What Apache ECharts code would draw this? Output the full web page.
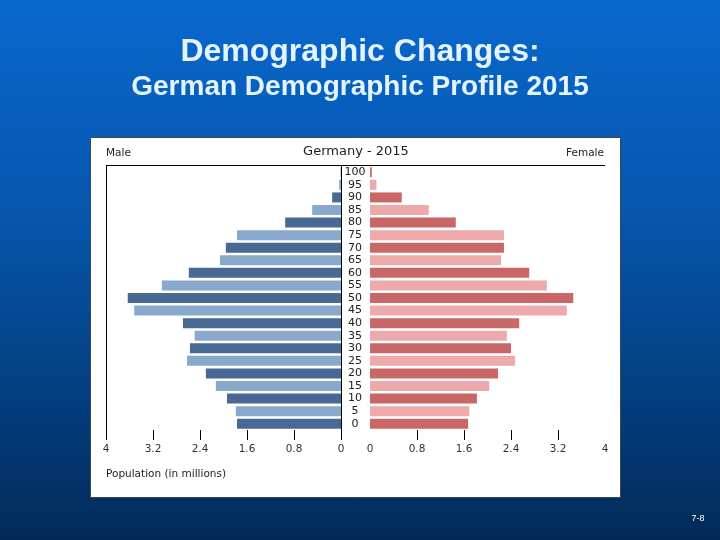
<!DOCTYPE html>
<html>
<head>
<meta charset="utf-8">
<script src="https://cdn.jsdelivr.net/npm/echarts@6/dist/echarts.min.js"></script>
<style>
  html, body { margin: 0; padding: 0; }
  body { width: 720px; height: 540px; background: linear-gradient(to bottom, #0968cc 0%, #0656ad 40%, #033d7c 75%, #022a58 100%); }
  #chart { width: 720px; height: 540px; }
</style>
</head>
<body>
<div id="chart"></div>
<script>
// Age groups (bottom to top)
var ages = ['0','5','10','15','20','25','30','35','40','45','50','55','60','65','70','75','80','85','90','95','100'];
// Population in millions
var male   = [1.77, 1.79, 1.94, 2.13, 2.30, 2.62, 2.57, 2.49, 2.69, 3.52, 3.63, 3.05, 2.59, 2.06, 1.96, 1.77, 0.95, 0.49, 0.15, 0.03, 0.005];
var female = [1.67, 1.69, 1.82, 2.03, 2.18, 2.47, 2.40, 2.33, 2.54, 3.35, 3.46, 3.01, 2.71, 2.23, 2.28, 2.28, 1.46, 1.00, 0.54, 0.11, 0.03];
var tickValues = [0, 0.8, 1.6, 2.4, 3.2, 4];

var maleDark = '#476993', maleLight = '#88a8cc';
var femDark = '#c96767', femLight = '#eeaaaa';

function colored(arr, dark, light) {
  return arr.map(function (v, i) {
    return { value: v, itemStyle: { color: i % 2 === 0 ? dark : light } };
  });
}

var chart = echarts.init(document.getElementById('chart'), null, { renderer: 'canvas' });
var fontChart = 'DejaVu Sans';
var option = {
  backgroundColor: 'transparent',
  animation: false,
  grid: [
    { left: 106, top: 166, width: 235, height: 264 },
    { left: 370, top: 166, width: 235, height: 264 }
  ],
  xAxis: [
    {
      gridIndex: 0, type: 'value', min: 0, max: 4, interval: 0.8, inverse: true,
      axisLine: { show: false },
      axisTick: { show: true, length: 10, lineStyle: { color: '#000', width: 1 } },
      axisLabel: { margin: 14, fontFamily: fontChart, fontSize: 10.5, color: '#333',
        customValues: tickValues },
      splitLine: { show: false }
    },
    {
      gridIndex: 1, type: 'value', min: 0, max: 4, interval: 0.8,
      axisLine: { show: false },
      axisTick: { show: true, length: 10, lineStyle: { color: '#000', width: 1 },
        customValues: [0.8, 1.6, 2.4, 3.2] },
      axisLabel: { margin: 14, fontFamily: fontChart, fontSize: 10.5, color: '#333',
        customValues: tickValues },
      splitLine: { show: false }
    }
  ],
  yAxis: [
    {
      gridIndex: 0, type: 'category', data: ages, position: 'right',
      axisLine: { show: true, lineStyle: { color: '#000', width: 1 } },
      axisTick: { show: false }, axisLabel: { show: false }
    },
    {
      gridIndex: 1, type: 'category', data: ages, position: 'left',
      axisLine: { show: false }, axisTick: { show: false },
      axisLabel: { show: true, align: 'center', margin: 15, fontFamily: fontChart, fontSize: 11, color: '#222', interval: 0 }
    }
  ],
  series: [
    { name: 'Male', type: 'bar', xAxisIndex: 0, yAxisIndex: 0, barWidth: 10, data: colored(male, maleDark, maleLight) },
    { name: 'Female', type: 'bar', xAxisIndex: 1, yAxisIndex: 1, barWidth: 10, data: colored(female, femDark, femLight) }
  ],
  graphic: [
    { type: 'rect', z: -10, shape: { x: 90.5, y: 137.5, width: 530, height: 360 },
      style: { fill: '#ffffff', stroke: '#3a4656', lineWidth: 1 } },
    { type: 'line', z: 100, shape: { x1: 106, y1: 165.5, x2: 605, y2: 165.5 },
      style: { stroke: '#000', lineWidth: 1 } },
    { type: 'line', z: 100, shape: { x1: 106.5, y1: 165, x2: 106.5, y2: 431 },
      style: { stroke: '#000', lineWidth: 1 } },
    { type: 'text', z: 100, x: 360, y: 52,
      style: { text: 'Demographic Changes:', fill: '#e3f3ff', font: 'bold 32px "Liberation Sans", Arial, sans-serif', textAlign: 'center', textVerticalAlign: 'middle' } },
    { type: 'text', z: 100, x: 360, y: 87,
      style: { text: 'German Demographic Profile 2015', fill: '#e3f3ff', font: 'bold 28px "Liberation Sans", Arial, sans-serif', textAlign: 'center', textVerticalAlign: 'middle' } },
    { type: 'text', z: 100, x: 356, y: 152,
      style: { text: 'Germany - 2015', fill: '#222', font: '13px "DejaVu Sans"', textAlign: 'center', textVerticalAlign: 'middle' } },
    { type: 'text', z: 100, x: 106, y: 153,
      style: { text: 'Male', fill: '#222', font: '10.5px "DejaVu Sans"', textAlign: 'left', textVerticalAlign: 'middle' } },
    { type: 'text', z: 100, x: 604, y: 153,
      style: { text: 'Female', fill: '#222', font: '10.5px "DejaVu Sans"', textAlign: 'right', textVerticalAlign: 'middle' } },
    { type: 'text', z: 100, x: 106, y: 474,
      style: { text: 'Population (in millions)', fill: '#222', font: '10.5px "DejaVu Sans"', textAlign: 'left', textVerticalAlign: 'middle' } },
    { type: 'text', z: 100, x: 698, y: 519,
      style: { text: '7-8', fill: '#ffffff', font: '9px "Liberation Sans", Arial, sans-serif', textAlign: 'center', textVerticalAlign: 'middle' } }
  ]
};
chart.setOption(option);
</script>
</body>
</html>
